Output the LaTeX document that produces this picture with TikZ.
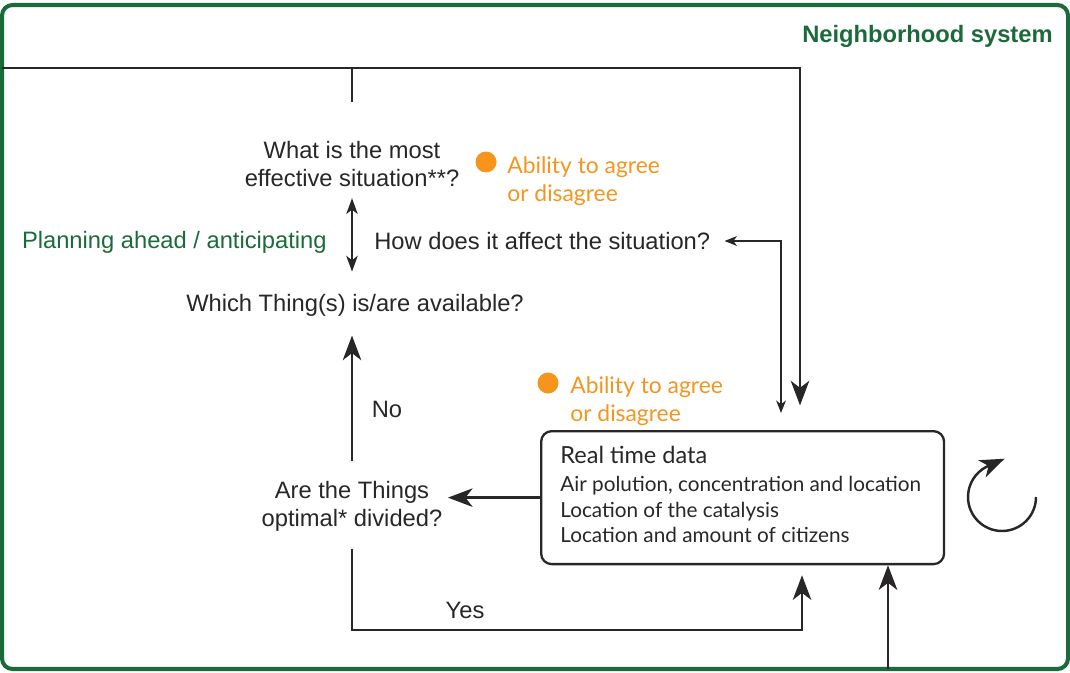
\documentclass[tikz,border=0pt]{standalone}
\usepackage{fontspec}
\setmainfont{Liberation Sans}
\newfontfamily\roundfont{Lato}
\usetikzlibrary{arrows.meta,positioning}

\definecolor{nbgreen}{RGB}{27,107,58}
\definecolor{agreeorange}{RGB}{247,148,29}
\definecolor{inkgray}{RGB}{40,38,39}

\tikzset{question/.style={font=\fontsize{13.5}{16}\selectfont,text=inkgray,align=center,inner sep=0pt}}
\tikzset{flow/.style={line width=1.4pt,draw=inkgray}}
\tikzset{bigarrow/.style={flow,-{Stealth[length=14pt,width=10.5pt,inset=4pt]}}}
\tikzset{twoway/.style={flow,line width=1.1pt,{Stealth[length=9pt,width=6.5pt,inset=2.5pt]}-{Stealth[length=9pt,width=6.5pt,inset=2.5pt]}}}
\tikzset{thinarrow/.style={flow,line width=1.1pt,{Stealth[length=7pt,width=5.5pt,inset=2pt]}-{Stealth[length=7pt,width=5.5pt,inset=2pt]}}}
\tikzset{agree/.style={font=\roundfont\fontsize{13}{16}\selectfont,text=agreeorange,align=left,anchor=west,inner sep=0pt}}
\tikzset{agreedot/.style={circle,fill=agreeorange,minimum size=0.42cm,inner sep=0pt}}
\tikzset{databox/.style={draw=inkgray,line width=1.3pt,rounded corners=6pt,anchor=north west,minimum width=8.06cm,minimum height=2.66cm,inner sep=0pt}}

\begin{document}
\begin{tikzpicture}[x=0.02cm,y=-0.02cm]
    \useasboundingbox (0,0) rectangle (1070,672);
    % draw the system frame
    \draw[nbgreen,line width=2.3pt,rounded corners=6pt] (2,5) rectangle (1068,669);
    \node[anchor=east,font=\bfseries\fontsize{13.5}{16}\selectfont,text=nbgreen,inner sep=0pt] (title) at (1053,36) {Neighborhood system};
    % the questions
    \node[question] (effect) at (352,164) {What is the most\\effective situation**?};
    \node[question,anchor=west] (affect) at (374,241) {How does it affect the situation?};
    \node[question] (avail) at (355,305) {Which Thing(s) is/are available?};
    \node[question] (divided) at (352,506) {Are the Things\\optimal* divided?};
    \node[question,anchor=east,text=nbgreen] (plan) at (327,242) {Planning ahead / anticipating};
    \node[question] (no) at (387,409) {No};
    \node[question] (yes) at (465,610) {Yes};
    % the data box
    \node[databox] (data) at (540,430) {};
    \node[anchor=north west,inner sep=0pt,align=left,text=inkgray,
          font=\roundfont\fontsize{11.8}{14.5}\selectfont] (datatext) at (560,446)
        {{\fontsize{13.4}{16}\selectfont Real time data}\\[1.5pt]
         Air polution, concentration and location\\
         Location of the catalysis\\
         Location and amount of citizens};
    % agree or disagree
    \node[agreedot] (dot1) at (486,162) {};
    \node[agree] (agree1) at (507,181) {Ability to agree\\or disagree};
    \node[agreedot] (dot2) at (548,383) {};
    \node[agree] (agree2) at (570,401) {Ability to agree\\or disagree};
    % turning points
    \coordinate (inleft) at (2,68);
    \coordinate (topright) at (800,68);
    \coordinate (turn) at (781,240);
    \coordinate (yesturn) at (802,630);
    \coordinate (inbottom) at (888,669);
    % draw the connectors
    \draw[flow] (inleft) -- (effect.north |- inleft);
    \draw[bigarrow,shorten <=22pt,shorten >=14pt] (effect.north) |- (topright) -- (data.north -| topright);
    \draw[twoway,shorten <=6.3pt,shorten >=12.5pt] (effect.south) -- (effect.south |- avail.north);
    \draw[thinarrow,shorten <=8pt,shorten >=9.7pt] (affect.east) -- (affect.east -| turn) -- (data.north -| turn);
    \draw[bigarrow,shorten <=11.1pt,shorten >=10.9pt] (divided.north) -- (divided.north |- avail.south);
    \draw[bigarrow,shorten >=3pt] (data.west) -- (data.west -| divided.east);
    \draw[bigarrow,shorten <=9.7pt,shorten >=5.7pt] (divided.south) |- (yesturn) -- (data.south -| yesturn);
    \draw[bigarrow] (inbottom) -- (data.south -| inbottom);
    % the cycle sign
    \draw[bigarrow] (1036,497) arc[start angle=0,end angle=243,radius=34] -- ++(18,-8);
\end{tikzpicture}
\end{document}
